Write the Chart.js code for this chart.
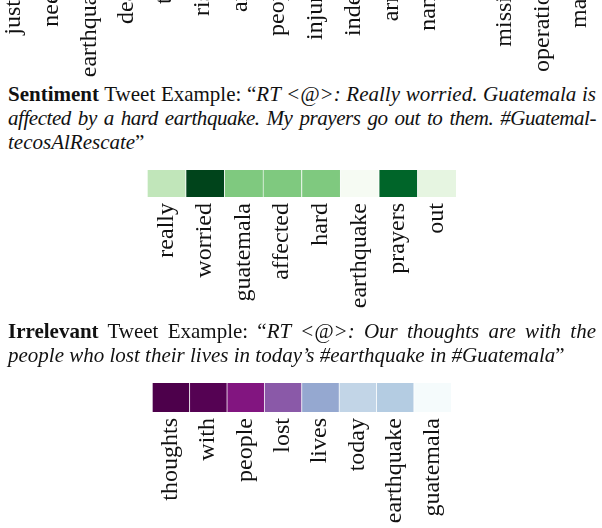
<!DOCTYPE html>
<html>
<head>
<meta charset="utf-8">
<script src="https://cdn.jsdelivr.net/npm/chart.js@4/dist/chart.umd.min.js"></script>
<style>
  html, body { margin: 0; padding: 0; background: #fff; overflow: hidden; }
  body { width: 602px; height: 528px; position: relative; font-family: "Liberation Serif", serif; color: #111; }
  .line { position: absolute; left: 8px; width: 588px; font-size: 21px; line-height: 24px; white-space: nowrap; }
  .just { text-align: justify; text-align-last: justify; white-space: normal; }
  .tight { letter-spacing: -0.45px; }
  .topStrip { position: absolute; left: 0; top: 0; width: 602px; height: 80px; overflow: hidden; }
  canvas { position: absolute; }
</style>
</head>
<body>

<div class="topStrip"><canvas id="topChart" width="620" height="177" style="left:-5px; top:-78px;"></canvas></div>

<div class="line just" style="top:82px"><b>Sentiment</b> Tweet Example: “<i>RT &lt;@&gt;: Really worried. Guatemala is</i></div>
<div class="line just tight" style="top:106px"><i>affected by a hard earthquake. My prayers go out to them. #Guatemal-</i></div>
<div class="line" style="top:130px"><i>tecosAlRescate</i>”</div>

<canvas id="sentimentChart" width="602" height="162" style="left:0; top:160px;"></canvas>

<div class="line just" style="top:319px"><b>Irrelevant</b> Tweet Example: “<i>RT &lt;@&gt;: Our thoughts are with the</i></div>
<div class="line" style="top:343px"><i>people who lost their lives in today’s #earthquake in #Guatemala</i>”</div>

<canvas id="irrelevantChart" width="602" height="164" style="left:0; top:373px;"></canvas>

<script>
// words + attention weights (0..1)
const topWords = ['justice', 'needs', 'earthquake', 'death', 'toll', 'rises', 'area', 'people',
  'injured', 'indeed', 'army', 'nanny', 'of', 'missing', 'operations', 'major'];
const topWeights = [0.3, 0.2, 0.6, 0.5, 0.3, 0.2, 0.1, 0.7, 0.8, 0.2, 0.3, 0.1, 0.05, 0.9, 0.4, 0.3];

const sentimentWords = ['really', 'worried', 'guatemala', 'affected', 'hard', 'earthquake', 'prayers', 'out'];
const sentimentWeights = [0.27, 1.0, 0.47, 0.47, 0.47, 0.01, 0.9, 0.12];

const irrelevantWords = ['thoughts', 'with', 'people', 'lost', 'lives', 'today', 'earthquake', 'guatemala'];
const irrelevantWeights = [1.0, 0.98, 0.86, 0.68, 0.44, 0.24, 0.29, 0.01];

// colormaps (matplotlib Greens / BuPu)
const greens = ['#f7fcf5', '#e5f5e0', '#c7e9c0', '#a1d99b', '#74c476', '#41ab5d', '#238b45', '#006d2c', '#00441b'];
const bupu = ['#f7fcfd', '#e0ecf4', '#bfd3e6', '#9ebcda', '#8c96c6', '#8c6bb1', '#88419d', '#810f7c', '#4d004b'];

function hexToRgb(h) {
  return [parseInt(h.slice(1, 3), 16), parseInt(h.slice(3, 5), 16), parseInt(h.slice(5, 7), 16)];
}

function colorFor(stops, v) {
  const pos = Math.max(0, Math.min(1, v)) * (stops.length - 1);
  const i = Math.min(Math.floor(pos), stops.length - 2);
  const t = pos - i;
  const a = hexToRgb(stops[i]);
  const b = hexToRgb(stops[i + 1]);
  const c = a.map((x, k) => Math.round(x + (b[k] - x) * t));
  return 'rgb(' + c.join(',') + ')';
}

function heatStrip(canvas, words, weights, cmap, pad, axisHeight, borderColor) {
  return new Chart(canvas, {
    type: 'bar',
    data: {
      labels: words,
      datasets: [{
        data: words.map(() => 1),
        backgroundColor: weights.map(w => colorFor(cmap, w)),
        borderColor: borderColor,
        borderWidth: { left: 1, right: 0, top: 0, bottom: 0 },
        borderSkipped: false,
        barPercentage: 1,
        categoryPercentage: 1,
      }],
    },
    options: {
      responsive: false,
      animation: false,
      devicePixelRatio: 1,
      layout: { padding: pad },
      plugins: {
        legend: { display: false },
        tooltip: { enabled: false },
      },
      scales: {
        x: {
          grid: { display: false, drawTicks: false },
          border: { display: false },
          ticks: {
            autoSkip: false,
            maxRotation: 90,
            minRotation: 90,
            padding: 6,
            color: '#111',
            font: { family: 'Liberation Serif', size: 24 },
          },
          afterFit: (scale) => { scale.height = axisHeight; },
        },
        y: { display: false, min: 0, max: 1 },
      },
    },
  });
}

document.addEventListener('DOMContentLoaded', () => {
  heatStrip(document.getElementById('topChart'), topWords, topWeights, greens,
    { top: 17, left: 0, right: 0, bottom: 0 }, 133, 'rgba(255,255,255,0.6)');

  heatStrip(document.getElementById('sentimentChart'), sentimentWords, sentimentWeights, greens,
    { top: 10, left: 147, right: 146, bottom: 0 }, 125, 'rgba(255,255,255,0.6)');

  heatStrip(document.getElementById('irrelevantChart'), irrelevantWords, irrelevantWeights, bupu,
    { top: 10, left: 152, right: 151, bottom: 0 }, 125, 'rgba(255,255,255,0.35)');
});
</script>
</body>
</html>
